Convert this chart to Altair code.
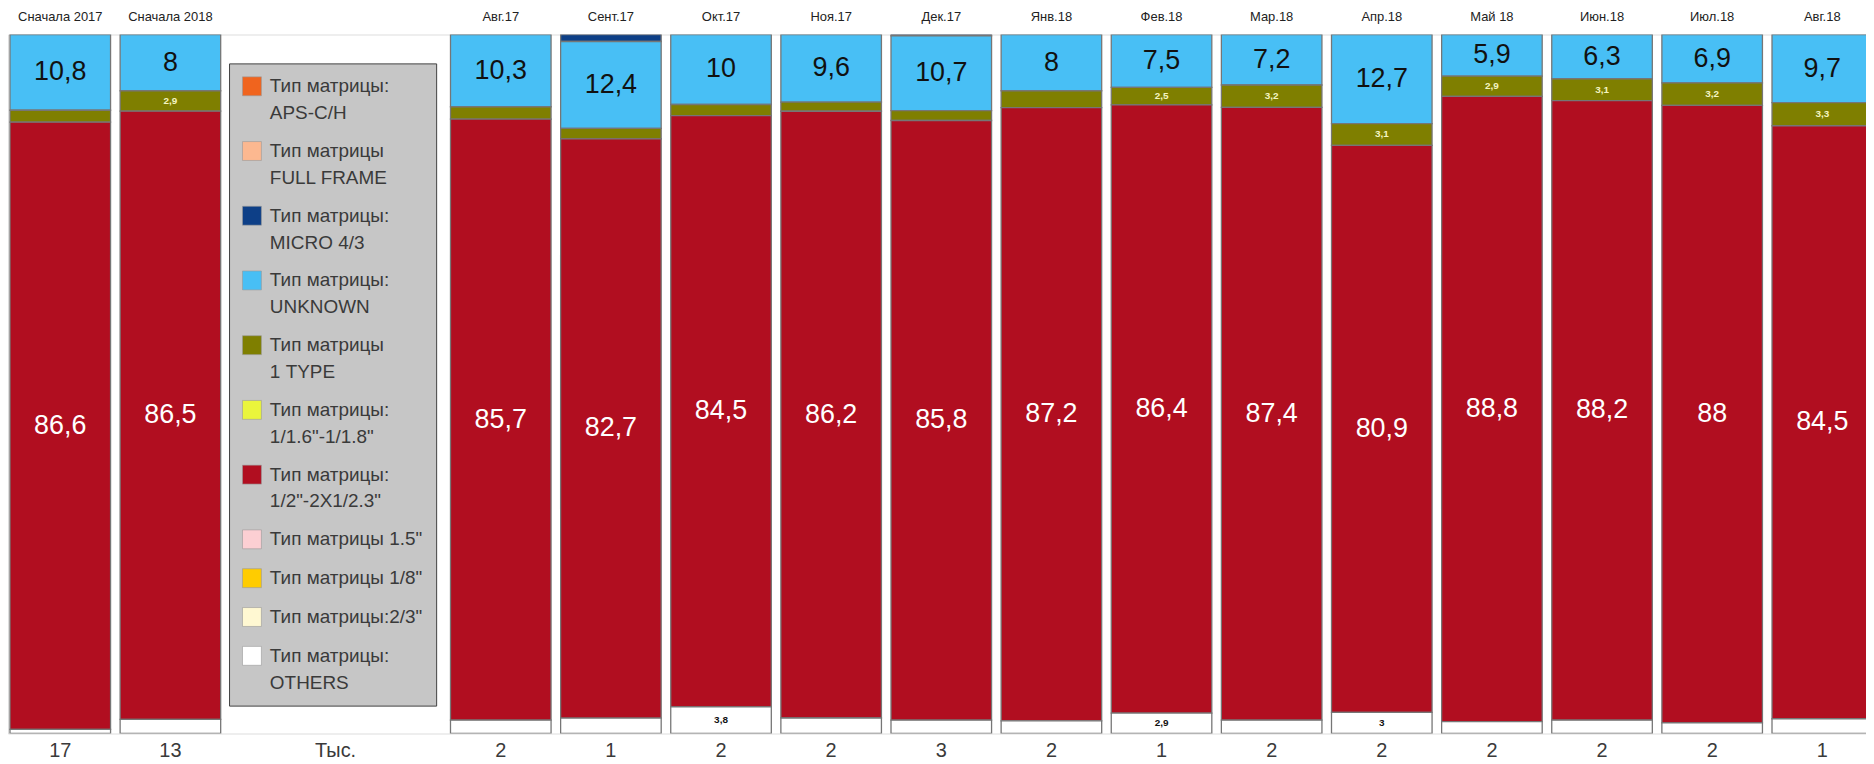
import altair as alt
import pandas as pd

# ---------------- data ----------------
cats = ["Сначала 2017", "Сначала 2018", "Авг.17", "Сент.17", "Окт.17", "Ноя.17", "Дек.17",
        "Янв.18", "Фев.18", "Мар.18", "Апр.18", "Май 18", "Июн.18", "Июл.18", "Авг.18"]
gap_slots = ["gap1", "gap2"]
totals = ["17", "13", "2", "1", "2", "2", "3", "2", "1", "2", "2", "2", "2", "2", "1"]
unit_label = "Тыс."

series_names = [
    'Тип матрицы:|APS-C/H',
    'Тип матрицы|FULL FRAME',
    'Тип матрицы:|MICRO 4/3',
    'Тип матрицы:|UNKNOWN',
    'Тип матрицы|1 TYPE',
    'Тип матрицы:|1/1.6"-1/1.8"',
    'Тип матрицы:|1/2"-2X1/2.3"',
    'Тип матрицы 1.5"',
    'Тип матрицы 1/8"',
    'Тип матрицы:2/3"',
    'Тип матрицы:|OTHERS',
]
series_colors = ["#F0641E", "#FCB890", "#0D3F87", "#48BFF5", "#7F7F00", "#EAF53C",
                 "#B10E20", "#FCCFD3", "#FFCC00", "#FFF8D2", "#FFFFFF"]

aps_c     = [0, 0, 0, 0, 0, 0, 0, 0, 0, 0, 0, 0, 0, 0, 0]
full_fr   = [0, 0, 0, 0, 0, 0, 0, 0, 0, 0, 0, 0, 0, 0, 0]
micro43   = [0, 0, 0, 1.0, 0, 0, 0.2, 0, 0, 0, 0, 0, 0, 0, 0]
unknown   = [10.8, 8, 10.3, 12.4, 10, 9.6, 10.7, 8, 7.5, 7.2, 12.7, 5.9, 6.3, 6.9, 9.7]
type1     = [1.7, 2.9, 1.75, 1.5, 1.6, 1.3, 1.4, 2.4, 2.5, 3.2, 3.1, 2.9, 3.1, 3.2, 3.3]
s16_18    = [0, 0, 0, 0, 0, 0, 0, 0, 0, 0, 0, 0, 0, 0, 0]
s12_23    = [86.6, 86.5, 85.7, 82.7, 84.5, 86.2, 85.8, 87.2, 86.4, 87.4, 80.9, 88.8, 88.2, 88, 84.5]
s15       = [0, 0, 0, 0, 0, 0, 0, 0, 0, 0, 0, 0, 0, 0, 0]
s18       = [0, 0, 0, 0, 0, 0, 0, 0, 0, 0, 0, 0, 0, 0, 0]
s23       = [0, 0, 0, 0, 0, 0, 0, 0, 0, 0, 0, 0, 0, 0, 0]
others    = [0.6, 2.0, 1.9, 2.2, 3.8, 2.2, 1.9, 1.8, 2.9, 1.9, 3.0, 1.7, 1.9, 1.5, 2.1]

series_values = [aps_c, full_fr, micro43, unknown, type1, s16_18, s12_23, s15, s18, s23, others]


def fmt(v):
    return f"{v:g}".replace(".", ",")


rows = []
for i, c in enumerate(cats):
    for k, (name, vals) in enumerate(zip(series_names, series_values)):
        v = vals[i]
        if v > 0:
            rows.append(dict(cat=c, series=name, value=v, ord=len(series_names) - 1 - k,
                             label=fmt(v)))
df = pd.DataFrame(rows)
df_tot = pd.DataFrame(dict(cat=cats, total=totals))
df_unit = pd.DataFrame(dict(cat=[gap_slots[0]], total=[unit_label]))

# ---------------- layout ----------------
slots = cats[:2] + gap_slots + cats[2:]
step = 110.6
gap = 9.6
x_scale = alt.Scale(domain=slots, range=[2, 2 + len(slots) * step - gap],
                    paddingInner=gap / step, paddingOuter=0)
y_scale = alt.Scale(domain=[0, 1])
X = alt.X("cat:N", scale=x_scale, sort=slots,
          axis=alt.Axis(orient="top", title=None, domain=False, ticks=False, tickSize=0,
                        grid=False, labelPadding=11, labelFont="Liberation Sans",
                        labelFontSize=13, labelColor="#222222", labelAngle=0,
                        labelOverlap=False,
                        labelExpr="indexof(datum.label, 'gap') == 0 ? '' : datum.label"))

base = alt.Chart(df).transform_stack(
    stack="value", groupby=["cat"], as_=["y0", "y1"], offset="normalize",
    sort=[alt.SortField("ord", order="ascending")]
).transform_calculate(ymid="(datum.y0 + datum.y1) / 2")

bars = base.mark_bar(stroke="#767676", strokeWidth=1.3, clip=True).encode(
    x=X,
    y=alt.Y("y0:Q", scale=y_scale, axis=None),
    y2="y1:Q",
    color=alt.Color("series:N", scale=alt.Scale(domain=series_names, range=series_colors),
                    legend=alt.Legend(title=None, orient="none", legendX=222, legendY=29,
                                      fillColor="#c6c6c6", strokeColor="#404040",
                                      padding=13, symbolType="square", symbolSize=361,
                                      symbolStrokeWidth=0.6, symbolStrokeColor="#9a9a9a",
                                      symbolOpacity=1, labelFont="Liberation Sans",
                                      labelFontSize=19, labelColor="#3a3a3a",
                                      labelOffset=8, labelLimit=400, rowPadding=17,
                                      labelBaseline="middle",
                                      labelExpr="split(datum.label, '|')")),
)

big_unknown = base.transform_filter(
    alt.FieldOneOfPredicate(field="series", oneOf=[series_names[3]])
).mark_text(font="Liberation Sans", fontSize=27, color="#111111", baseline="middle").encode(
    x=X, y=alt.Y("ymid:Q", scale=y_scale), text="label:N")

big_red = base.transform_filter(
    alt.FieldOneOfPredicate(field="series", oneOf=[series_names[6]])
).mark_text(font="Liberation Sans", fontSize=27, color="#ffffff", baseline="middle").encode(
    x=X, y=alt.Y("ymid:Q", scale=y_scale), text="label:N")

small_olive = base.transform_filter(
    (alt.datum.series == series_names[4]) & (alt.datum.value >= 2.5)
).mark_text(font="Liberation Sans", fontSize=10, fontWeight="bold", color="#f4f4c0",
            baseline="middle").encode(
    x=X, y=alt.Y("ymid:Q", scale=y_scale), text="label:N")

small_white = base.transform_filter(
    (alt.datum.series == series_names[10]) & (alt.datum.value >= 2.5)
).mark_text(font="Liberation Sans", fontSize=10, fontWeight="bold", color="#111111",
            baseline="middle").encode(
    x=X, y=alt.Y("ymid:Q", scale=y_scale), text="label:N")

bottom = alt.Chart(df_tot).mark_text(font="Liberation Sans", fontSize=20, color="#3a3a3a",
                                     baseline="middle").encode(
    x=X, y=alt.value(720), text="total:N")

unit = alt.Chart(df_unit).mark_text(font="Liberation Sans", fontSize=20, color="#3a3a3a",
                                    baseline="middle", dx=step / 2).encode(
    x=X, y=alt.value(720), text="total:N")

chart = alt.layer(bars, big_unknown, big_red, small_olive, small_white, bottom, unit).properties(
    width=1866, height=702,
    padding={"left": 0, "top": 25, "right": 0, "bottom": 29},
    autosize=alt.AutoSizeParams(type="none"),
).configure_view(stroke=None).configure(
    background="white",
    style={"guide-label": {"lineHeight": 27}},
)

chart.save("out.html", embed_options={"renderer": "svg", "actions": False})
